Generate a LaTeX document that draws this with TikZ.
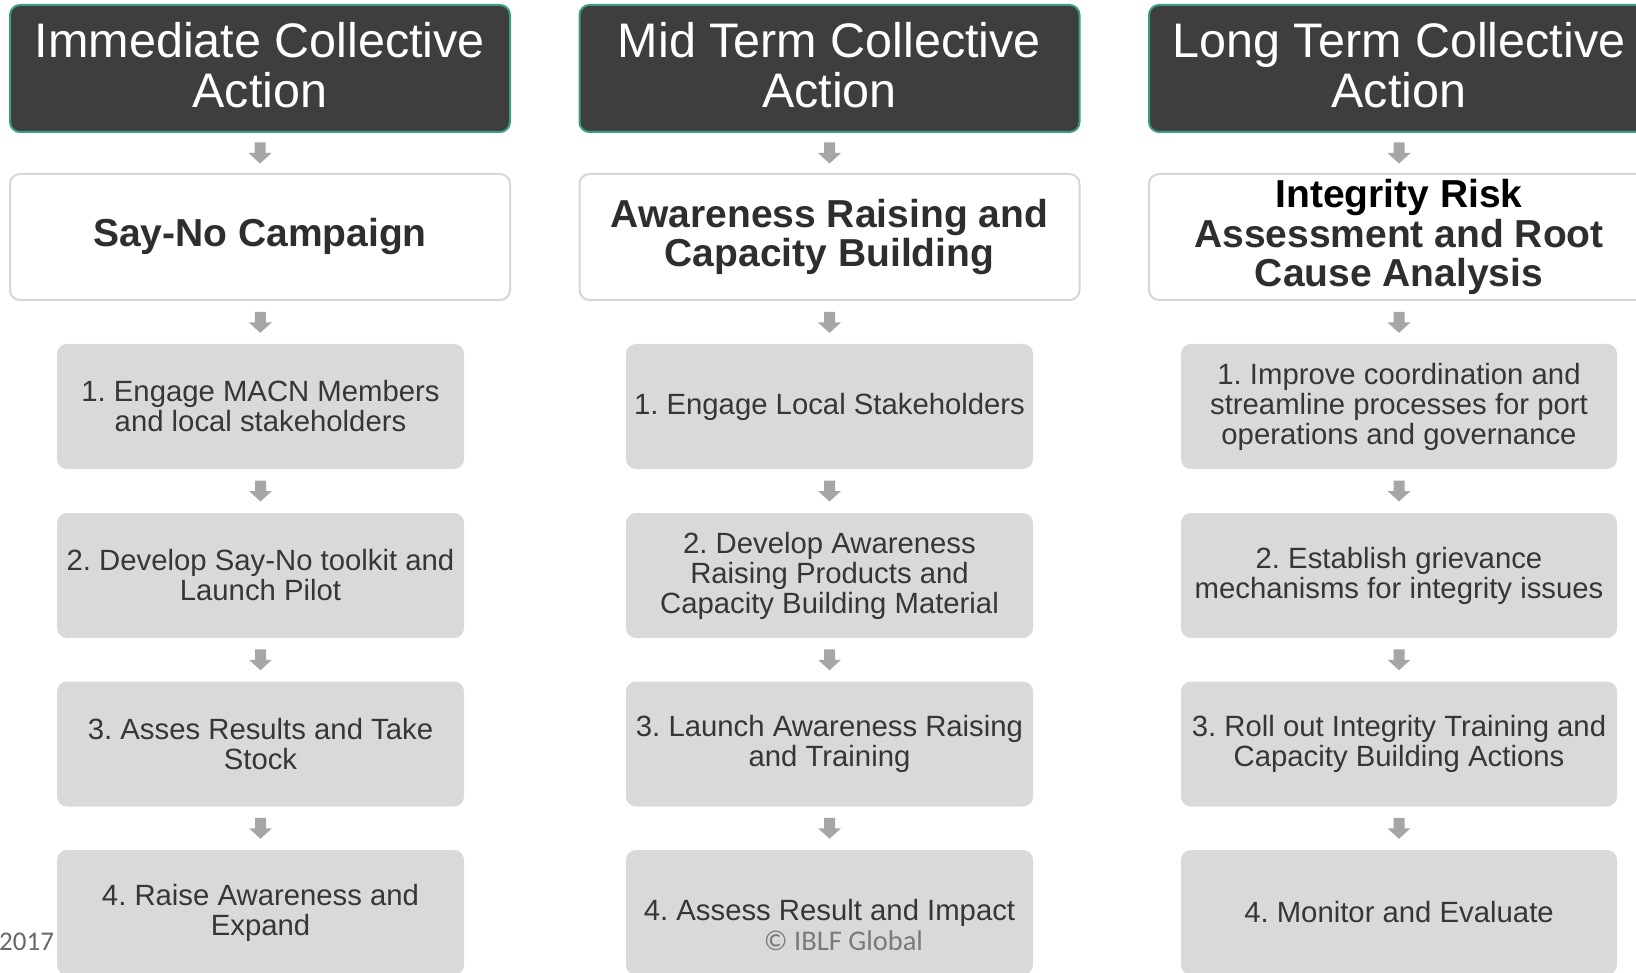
\documentclass[tikz,border=0pt]{standalone}
\usepackage{fontspec}
\setmainfont{Liberation Sans}
\newfontfamily\calib{Carlito}
\usetikzlibrary{calc}
\definecolor{hdrfill}{HTML}{3E3E3E}
\definecolor{hdredge}{HTML}{3A9E85}
\definecolor{wedge}{HTML}{D6D6D6}
\definecolor{gfill}{HTML}{D9D9D9}
\definecolor{gtext}{HTML}{363636}
\definecolor{wtext}{HTML}{2E2E2E}
\definecolor{agray}{HTML}{A6A6A6}
\definecolor{foot}{HTML}{7A7A7A}
\frenchspacing
\begin{document}
\begin{tikzpicture}[x=1pt,y=-1pt,
  hdr/.style={draw=hdredge, line width=2pt, fill=hdrfill, rounded corners=10pt,
    minimum width=500pt, minimum height=127pt, inner sep=0pt, text=white,
    align=center, font=\fontsize{48.5}{50}\selectfont},
  wbox/.style={draw=wedge, line width=2pt, fill=white, rounded corners=10pt,
    minimum width=500pt, minimum height=126pt, inner sep=0pt, text=wtext,
    align=center, font=\bfseries\fontsize{39}{39.5}\selectfont},
  gbox/.style={fill=gfill, rounded corners=10pt, minimum width=407pt,
    minimum height=125pt, inner sep=0pt, text=gtext, align=center,
    font=\fontsize{29.3}{30}\selectfont},
  gwide/.style={gbox, minimum width=436pt},
  dnarrow/.pic={\fill[agray] (-5.5,-10.5) -- (5.5,-10.5) -- (5.5,0) -- (11.5,0)
    -- (0,10.5) -- (-11.5,0) -- (-5.5,0) -- cycle;},
  foottext/.style={inner sep=0pt, text=foot, font=\calib\fontsize{28.5}{30}\selectfont}
]
\clip (0,0) rectangle (1636,973);
\fill[white] (0,0) rectangle (1636,973);

% headers
\node[hdr] (h1) at (260,68.5) {};
\node[hdr] (h2) at (829.5,68.5) {};
\node[hdr] (h3) at (1399,68.5) {};
\node[text=white, align=center, font=\fontsize{48.5}{50}\selectfont, inner sep=0pt] (t1) at ($(h1.center)+(0,-3)$) {Immediate Collective\\Action};
\node[text=white, align=center, font=\fontsize{48.5}{50}\selectfont, inner sep=0pt] (t2) at ($(h2.center)+(0,-3)$) {Mid Term Collective\\Action};
\node[text=white, align=center, font=\fontsize{48.5}{50}\selectfont, inner sep=0pt] (t3) at ($(h3.center)+(0,-3)$) {Long Term Collective\\Action};

% white boxes
\node[wbox] (w1) at (260,237) {Say-No Campaign};
\node[wbox] (w2) at (829.5,237) {Awareness Raising and\\Capacity Building};
\node[wbox] (w3) at (1399,237) {{\color{black}Integrity Risk}\\Assessment and Root\\Cause Analysis};

% column 1
\node[gbox] (a1) at (260.5,406.5) {1. Engage MACN Members\\and local stakeholders};
\node[gbox] (a2) at (260.5,575.5) {2. Develop Say-No toolkit and\\Launch Pilot};
\node[gbox] (a3) at (260.5,744) {3. Asses Results and Take\\Stock};
\node[gbox] (a4) at (260.5,912.5) {4. Raise Awareness and\\Expand};

% column 2
\node[gbox] (b1) at (829.5,406.5) {1. Engage Local Stakeholders};
\node[gbox] (b2) at (829.5,575.5) {2. Develop Awareness\\Raising Products and\\Capacity Building Material};
\node[gbox] (b3) at (829.5,744) {3. Launch Awareness Raising\\and Training};
\node[gbox] (b4) at (829.5,912.5) {4. Assess Result and Impact};

% column 3
\node[gwide] (c1) at (1399,406.5) {1. Improve coordination and\\streamline processes for port\\operations and governance};
\node[gwide] (c2) at (1399,575.5) {2. Establish grievance\\mechanisms for integrity issues};
\node[gwide] (c3) at (1399,744) {3. Roll out Integrity Training and\\Capacity Building Actions};
\node[gwide] (c4) at (1399,912.5) {4. Monitor and Evaluate};

% arrows
\foreach \col/\g in {1/a,2/b,3/c}{
  \path ($(h\col.south)!0.5!(w\col.north)$) pic{dnarrow};
  \path ($(w\col.south)!0.5!(\g1.north)$) pic{dnarrow};
  \path ($(\g1.south)!0.5!(\g2.north)$) pic{dnarrow};
  \path ($(\g2.south)!0.5!(\g3.north)$) pic{dnarrow};
  \path ($(\g3.south)!0.5!(\g4.north)$) pic{dnarrow};
}

% footer
\node[foottext, anchor=base west, text=foot!85!black, font=\calib\fontsize{27}{30}\selectfont] (yr) at (-1,950) {2017};
\node[foottext, anchor=base] (cp) at (843.5,950) {© IBLF Global};
\end{tikzpicture}
\end{document}
